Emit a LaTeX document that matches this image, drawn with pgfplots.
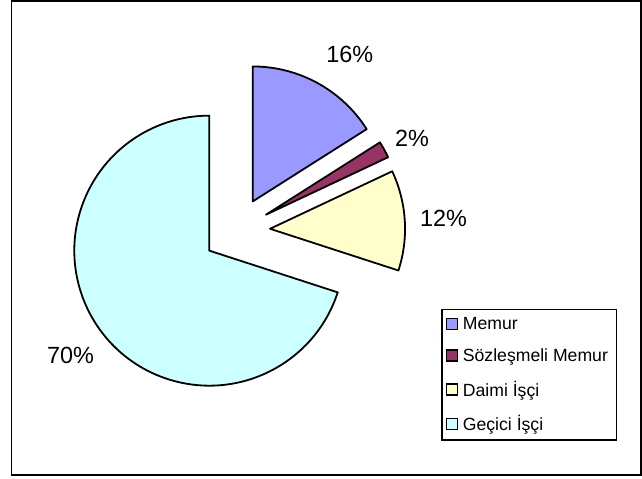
\documentclass[border=0pt]{standalone}
\usepackage{pgfplots}
\pgfplotsset{compat=1.18}
\usepackage{fontspec}
\setmainfont{Liberation Sans}
\definecolor{memur}{HTML}{9999FF}
\definecolor{sozl}{HTML}{993366}
\definecolor{daimi}{HTML}{FFFFCC}
\definecolor{gecici}{HTML}{CCFFFF}
% data (percent)
\def\vA{16}\def\vB{2}\def\vC{12}\def\vD{70}
\pgfmathsetmacro\aA{90}
\pgfmathsetmacro\aB{\aA-3.6*\vA}
\pgfmathsetmacro\aC{\aB-3.6*\vB}
\pgfmathsetmacro\aD{\aC-3.6*\vC}
\pgfmathsetmacro\aE{\aD-3.6*\vD}
\pgfmathsetmacro\mA{(\aA+\aB)/2}
\pgfmathsetmacro\mB{(\aB+\aC)/2}
\pgfmathsetmacro\mC{(\aC+\aD)/2}
\pgfmathsetmacro\mD{(\aD+\aE)/2}
\def\cx{236.5}\def\cy{247.5}\def\ex{33.6}
\begin{document}
\begin{tikzpicture}
\begin{axis}[
  x=1bp, y=1bp, xmin=0, xmax=642, ymin=0, ymax=478,
  hide axis, clip=false, scale only axis,
  legend style={at={(441/642,169.7/478)}, anchor=north west,
    draw=black, line width=1.6bp, inner xsep=4bp, inner ysep=5.5bp,
    font=\fontsize{17.7}{20}\selectfont, row sep=14bp,
    cells={anchor=west}, nodes={inner xsep=4.5bp}},
  legend cell align=left,
]
\path[fill=white] (axis cs:0,0) rectangle (axis cs:642,478);
\draw[line width=1.8bp] (axis cs:11.5,3) rectangle (axis cs:641,477.5);
\filldraw[fill=memur, line width=1.8bp, line join=round]
  (axis cs:{\cx+\ex*cos(\mA)},{\cy+\ex*sin(\mA)}) -- ++(\aA:135bp) arc[start angle=\aA, end angle=\aB, radius=135bp] -- cycle;
\filldraw[fill=sozl, line width=1.8bp, line join=round]
  (axis cs:{\cx+\ex*cos(\mB)},{\cy+\ex*sin(\mB)}) -- ++(\aB:135bp) arc[start angle=\aB, end angle=\aC, radius=135bp] -- cycle;
\filldraw[fill=daimi, line width=1.8bp, line join=round]
  (axis cs:{\cx+\ex*cos(\mC)},{\cy+\ex*sin(\mC)}) -- ++(\aC:135bp) arc[start angle=\aC, end angle=\aD, radius=135bp] -- cycle;
\filldraw[fill=gecici, line width=1.8bp, line join=round]
  (axis cs:{\cx+\ex*cos(\mD)},{\cy+\ex*sin(\mD)}) -- ++(\aD:135bp) arc[start angle=\aD, end angle=\aE, radius=135bp] -- cycle;
\node[font=\fontsize{23.5}{26}\selectfont] at (axis cs:349.7,424.3) {16\%};
\node[font=\fontsize{23.5}{26}\selectfont] at (axis cs:412,339.5) {2\%};
\node[font=\fontsize{23.5}{26}\selectfont] at (axis cs:443.5,259.5) {12\%};
\node[font=\fontsize{23.5}{26}\selectfont] at (axis cs:70.5,123) {70\%};
\addlegendimage{legend image code/.code={\draw[fill=memur, draw=black, line width=1.6bp] (2bp,-5.5bp) rectangle (13bp,5.5bp);}}
\addlegendimage{legend image code/.code={\draw[fill=sozl, draw=black, line width=1.6bp] (2bp,-5.5bp) rectangle (13bp,5.5bp);}}
\addlegendimage{legend image code/.code={\draw[fill=daimi, draw=black, line width=1.6bp] (2bp,-5.5bp) rectangle (13bp,5.5bp);}}
\addlegendimage{legend image code/.code={\draw[fill=gecici, draw=black, line width=1.6bp] (2bp,-5.5bp) rectangle (13bp,5.5bp);}}
\legend{Memur, Sözleşmeli Memur, Daimi İşçi, Geçici İşçi}
\end{axis}
\end{tikzpicture}
\end{document}
